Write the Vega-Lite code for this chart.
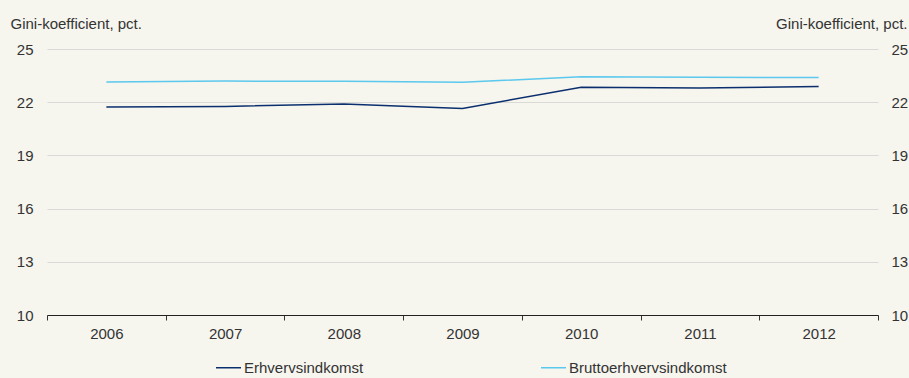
{
  "$schema": "https://vega.github.io/schema/vega-lite/v6.json",
  "width": 831,
  "height": 266,
  "autosize": {"type": "none"},
  "padding": {"left": 47, "top": 49, "right": 31, "bottom": 63},
  "background": "#f6f5ee",
  "config": {
    "view": {"stroke": null},
    "font": "Liberation Sans",
    "axis": {"labelFont": "Liberation Sans", "titleFont": "Liberation Sans", "labelFontSize": 15, "titleFontSize": 15, "labelColor": "#333333", "titleColor": "#333333", "titleFontWeight": "normal"},
    "legend": {"labelFont": "Liberation Sans", "labelFontSize": 15, "labelColor": "#333333"}
  },
  "data": {
    "values": [
      {"year": 2006, "serie": "Erhvervsindkomst", "gini": 21.73},
      {"year": 2007, "serie": "Erhvervsindkomst", "gini": 21.76},
      {"year": 2008, "serie": "Erhvervsindkomst", "gini": 21.9},
      {"year": 2009, "serie": "Erhvervsindkomst", "gini": 21.65},
      {"year": 2010, "serie": "Erhvervsindkomst", "gini": 22.84},
      {"year": 2011, "serie": "Erhvervsindkomst", "gini": 22.8},
      {"year": 2012, "serie": "Erhvervsindkomst", "gini": 22.88},
      {"year": 2006, "serie": "Bruttoerhvervsindkomst", "gini": 23.14},
      {"year": 2007, "serie": "Bruttoerhvervsindkomst", "gini": 23.19},
      {"year": 2008, "serie": "Bruttoerhvervsindkomst", "gini": 23.18},
      {"year": 2009, "serie": "Bruttoerhvervsindkomst", "gini": 23.12},
      {"year": 2010, "serie": "Bruttoerhvervsindkomst", "gini": 23.44},
      {"year": 2011, "serie": "Bruttoerhvervsindkomst", "gini": 23.41},
      {"year": 2012, "serie": "Bruttoerhvervsindkomst", "gini": 23.39}
    ]
  },
  "layer": [
    {
      "mark": {"type": "line", "strokeWidth": 1.5},
      "encoding": {
        "x": {
          "field": "year", "type": "quantitative",
          "scale": {"domain": [2005.5, 2012.5], "nice": false, "zero": false},
          "axis": {
            "title": null, "grid": false,
            "values": [2005.5, 2006.5, 2007.5, 2008.5, 2009.5, 2010.5, 2011.5, 2012.5],
            "labelExpr": "datum.value > 2012 ? '' : toString(datum.value + 0.5)",
            "labelOffset": 59.36, "labelPadding": 6, "labelAlign": "center",
            "tickSize": 5, "tickColor": "#333333", "domainColor": "#222222", "domainWidth": 1.2
          }
        },
        "y": {
          "field": "gini", "type": "quantitative",
          "scale": {"domain": [10, 25], "nice": false, "zero": false},
          "axis": {
            "orient": "left", "values": [10, 13, 16, 19, 22, 25],
            "ticks": false, "domain": false, "labelPadding": 14,
            "grid": true, "gridColor": "#d9d9d6",
            "title": "Gini-koefficient, pct.", "titleAngle": 0, "titleAlign": "left",
            "titleBaseline": "alphabetic", "titleX": -37, "titleY": -21
          }
        },
        "color": {
          "field": "serie", "type": "nominal",
          "scale": {"domain": ["Erhvervsindkomst", "Bruttoerhvervsindkomst"], "range": ["#0b2f6e", "#5bc8ee"]},
          "legend": {
            "title": null, "orient": "none", "legendX": 168, "legendY": 305,
            "direction": "horizontal", "columns": 2, "columnPadding": 174,
            "symbolType": "stroke", "symbolSize": 625, "symbolStrokeWidth": 1.5, "labelOffset": 2
          }
        }
      }
    },
    {
      "mark": {"type": "line", "strokeOpacity": 0},
      "encoding": {
        "x": {"field": "year", "type": "quantitative"},
        "y": {
          "field": "gini", "type": "quantitative",
          "axis": {
            "orient": "right", "values": [10, 13, 16, 19, 22, 25],
            "ticks": false, "domain": false, "labelPadding": 13, "grid": false,
            "title": "Gini-koefficient, pct.", "titleAngle": 0, "titleAlign": "right",
            "titleBaseline": "alphabetic", "titleX": 29, "titleY": -21
          }
        },
        "detail": {"field": "serie"}
      }
    }
  ],
  "resolve": {"axis": {"y": "independent"}}
}
